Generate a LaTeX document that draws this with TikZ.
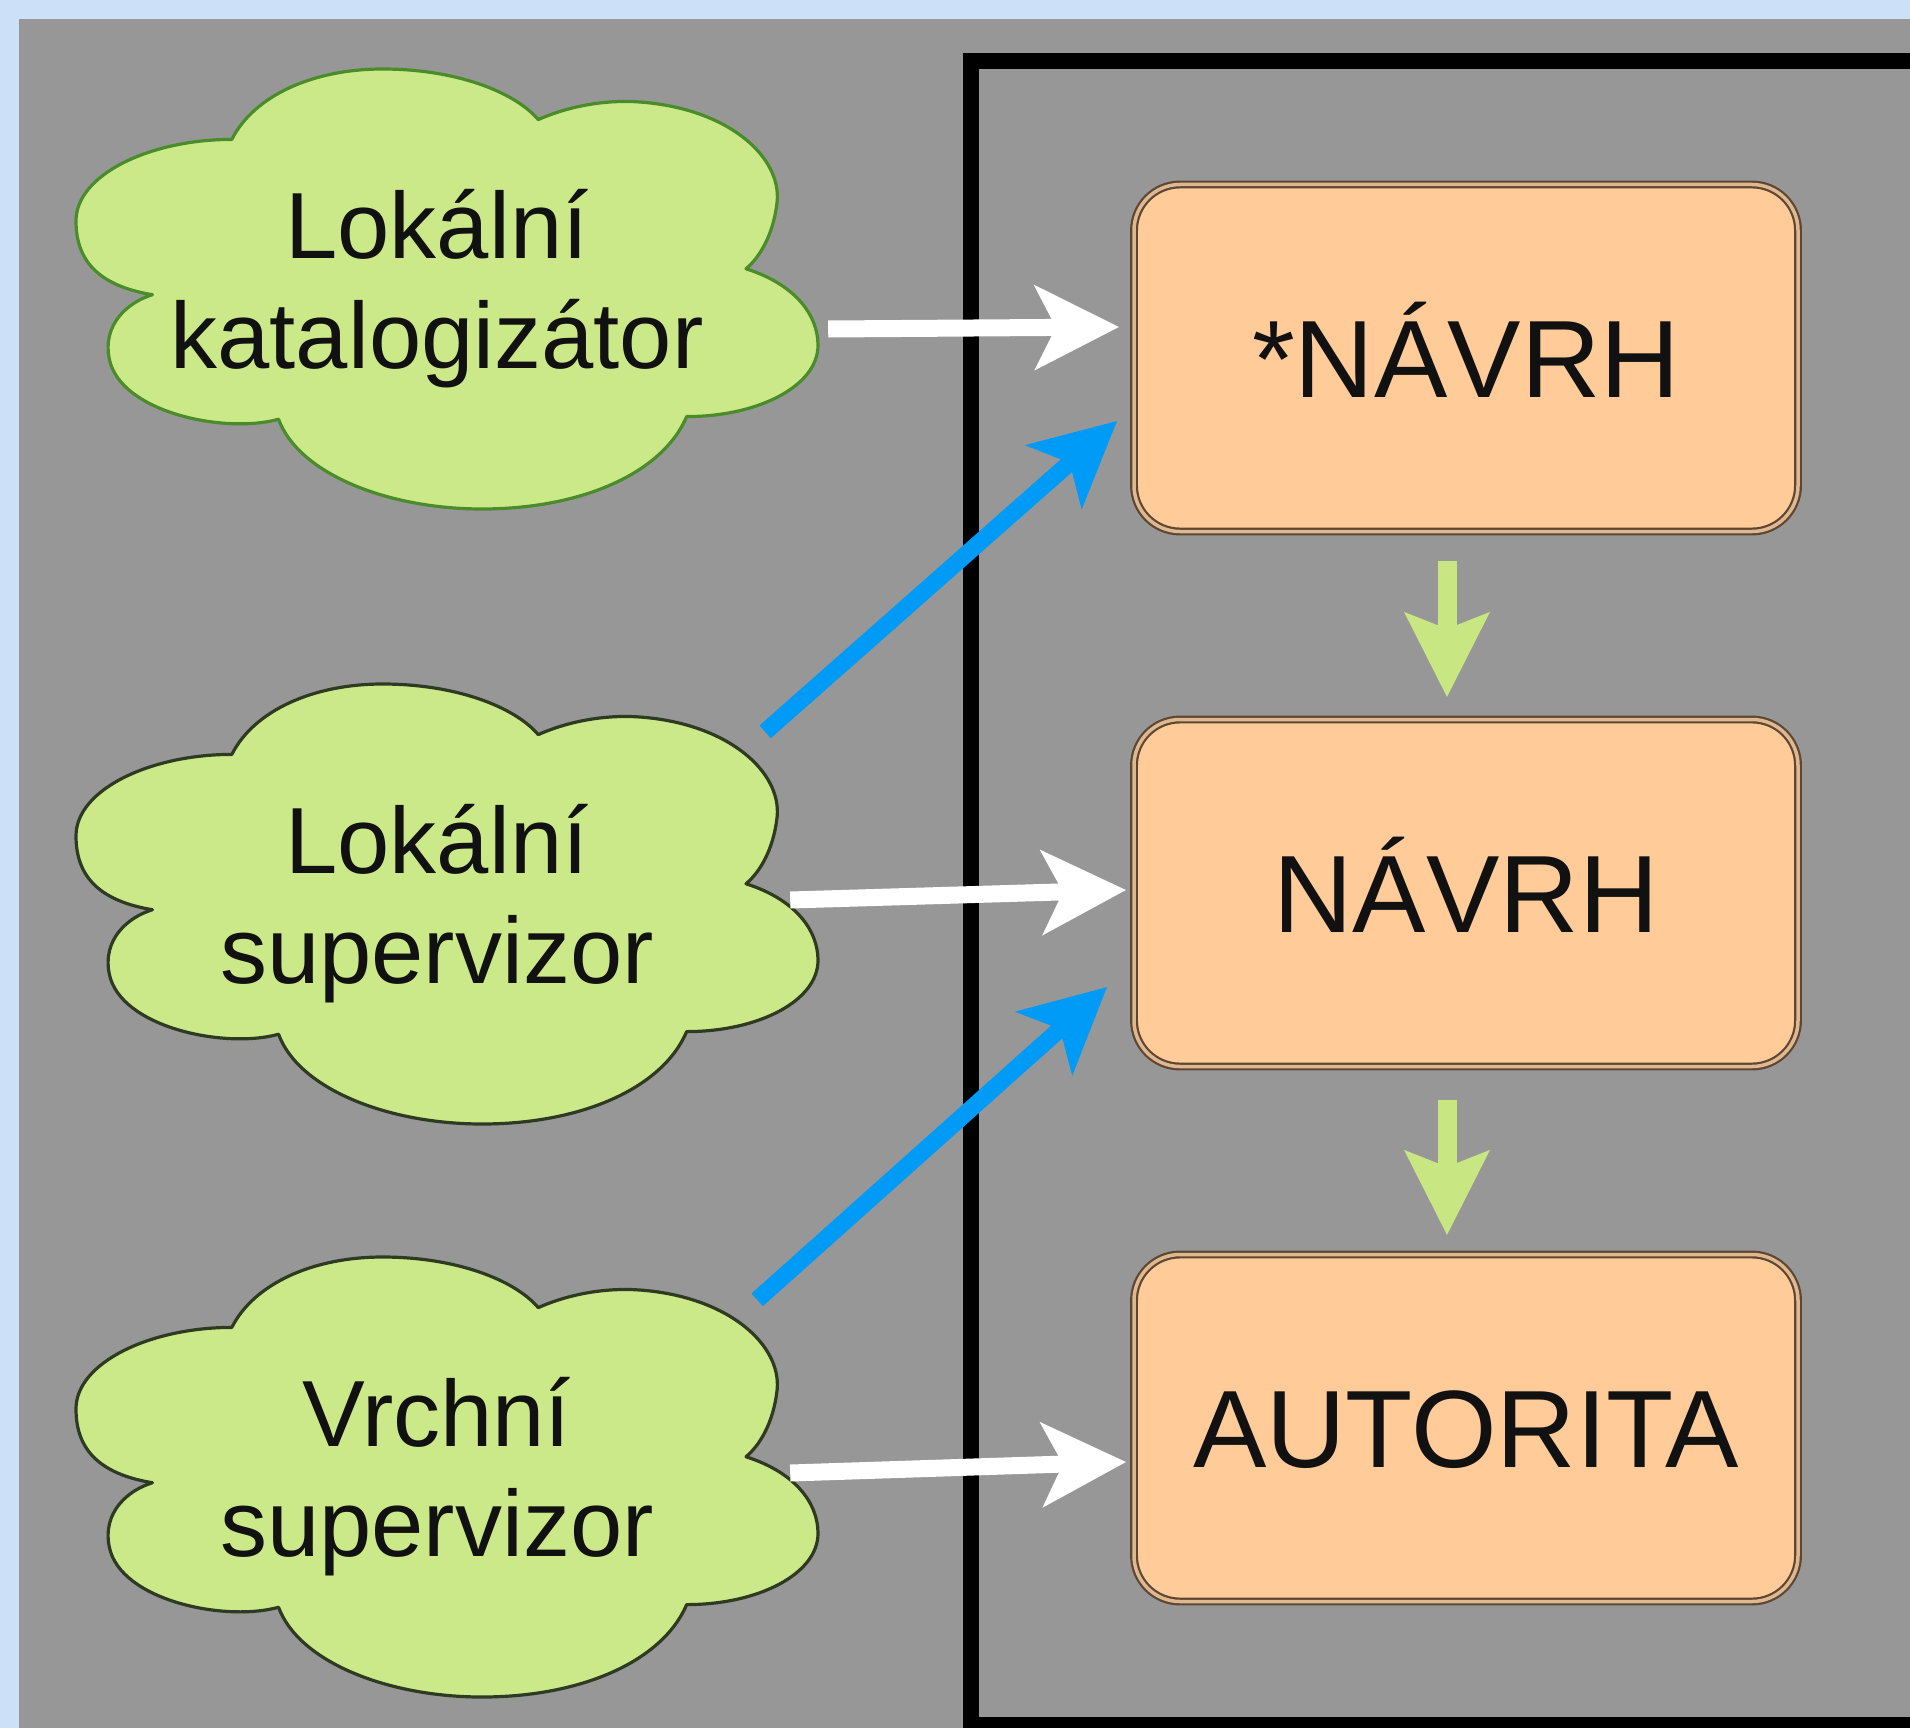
\documentclass[tikz,border=0pt]{standalone}
\usepackage{fontspec}
\setmainfont{Liberation Sans}
\usetikzlibrary{arrows.meta,calc}
\definecolor{bgblue}{HTML}{CCE1F7}
\definecolor{panelgray}{HTML}{979797}
\definecolor{cloudfill}{HTML}{CCE98A}
\definecolor{cloudlineA}{HTML}{4A8C2A}
\definecolor{cloudlineB}{HTML}{2E3B22}
\definecolor{boxfill}{HTML}{FFCB99}
\definecolor{boxline}{HTML}{5E4632}
\definecolor{boxgap}{HTML}{DDB890}
\definecolor{bluearrow}{HTML}{009BF7}
\definecolor{greenarrow}{HTML}{C8E682}
\definecolor{textcol}{HTML}{111111}
\newcommand\drawcloudshape[3]{%
\begin{scope}[shift={(#1-371,#2-220)}, x=742pt, y=-440pt]
\filldraw[fill=cloudfill, draw=#3, line width=3.2pt, line join=round]
(0.103,0.513) .. controls (0.02,0.49) and (0,0.42) .. (0,0.345)
.. controls (0,0.24) and (0.1,0.16) .. (0.21,0.16)
.. controls (0.24,0.06) and (0.32,0) .. (0.413,0)
.. controls (0.51,0) and (0.59,0.05) .. (0.623,0.115)
.. controls (0.67,0.08) and (0.72,0.07) .. (0.76,0.075)
.. controls (0.88,0.09) and (0.95,0.2) .. (0.945,0.3)
.. controls (0.94,0.38) and (0.92,0.43) .. (0.903,0.454)
.. controls (0.97,0.49) and (1,0.56) .. (1,0.628)
.. controls (1,0.72) and (0.92,0.79) .. (0.823,0.79)
.. controls (0.79,0.92) and (0.68,1) .. (0.547,1)
.. controls (0.42,1) and (0.3,0.92) .. (0.273,0.796)
.. controls (0.2,0.83) and (0.06,0.78) .. (0.045,0.66)
.. controls (0.035,0.58) and (0.07,0.53) .. (0.103,0.513) -- cycle;
\end{scope}}
\tikzset{
  cloudnode/.style={minimum width=742pt, minimum height=440pt, inner sep=0pt,
    align=center, text=textcol, font=\fontsize{94}{110}\selectfont},
  statebox/.style={draw=boxline, double=boxgap, line width=2.2pt, double distance=3.5pt,
    fill=boxfill, rounded corners=46pt, minimum width=664pt, minimum height=347pt,
    inner sep=0pt, text=textcol, font=\fontsize{110}{130}\selectfont,
    text height=79pt, text depth=0pt},
  whitearrow/.style={draw=white, line width=17pt,
    -{Stealth[length=85pt,width=86pt,inset=22pt,line width=0pt]}},
  bluearr/.style={draw=bluearrow, line width=17pt,
    -{Stealth[length=85pt,width=86pt,inset=22pt,line width=0pt]}},
  greenarr/.style={draw=greenarrow, line width=19pt,
    -{Stealth[length=85pt,width=86pt,inset=17pt,line width=0pt]}},
}
\begin{document}
\begin{tikzpicture}[x=1pt, y=-1pt]
\useasboundingbox (0,0) rectangle (1910,1728);
\clip (0,0) rectangle (1910,1728);
\fill[bgblue] (0,0) rectangle (1910,1728);
\fill[panelgray] (19,19) rectangle (1910,1728);
\draw[black, line width=16pt, line join=miter] (1960,61) -- (971,61) -- (971,1725) -- (1960,1725);
% clouds
\drawcloudshape{447}{289}{cloudlineA}
\drawcloudshape{447}{904}{cloudlineB}
\drawcloudshape{447}{1477}{cloudlineB}
\node[cloudnode] (c1) at (437,289) {Lokální\\katalogizátor};
\node[cloudnode] (c2) at (437,904) {Lokální\\supervizor};
\node[cloudnode] (c3) at (437,1477) {Vrchní\\supervizor};
% boxes
\node[statebox] (b1) at (1466,358) {*NÁVRH};
\node[statebox] (b2) at (1466,893) {NÁVRH};
\node[statebox] (b3) at (1466,1428) {AUTORITA};
% arrows
\draw[whitearrow] ($(c1.east)+(20,40)$) -- ($(b1.west)+(-14,-31)$);
\draw[bluearr] ($(c2.north east)+(-43,48)$) -- ($(b1.south west)+(-16,-111.5)$);
\draw[whitearrow] ($(c2.east)+(-18,-4)$) -- ($(b2.west)+(-7,-3)$);
\draw[bluearr] ($(c3.north east)+(-51,43)$) -- ($(b2.south west)+(-26,-80.5)$);
\draw[whitearrow] ($(c3.east)+(-18,-4)$) -- ($(b3.west)+(-7,34)$);
\draw[greenarr] ($(b1.south)+(-19,28.5)$) -- ($(b2.north)+(-19,-21.5)$);
\draw[greenarr] ($(b2.south)+(-19,32.5)$) -- ($(b3.north)+(-19,-18.5)$);
\end{tikzpicture}
\end{document}
